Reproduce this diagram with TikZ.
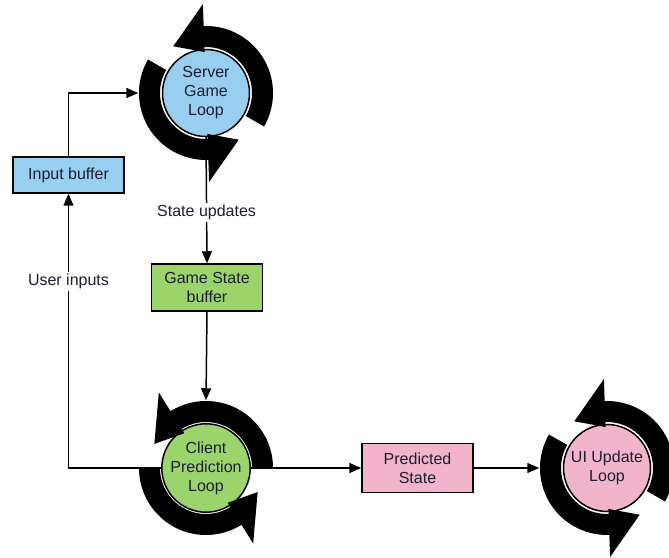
\documentclass[tikz,border=0pt]{standalone}
\usepackage{fontspec}
\setmainfont{Liberation Sans}
\usetikzlibrary{arrows.meta}

\definecolor{loopblue}{RGB}{152,206,240}
\definecolor{loopgreen}{RGB}{156,212,108}
\definecolor{looppink}{RGB}{242,180,202}
\definecolor{textdark}{RGB}{28,30,48}

% the two turning arrows round a loop
\tikzset{
  looparrows/.pic={
    \foreach \r in {0,180}
      \fill[black,rotate=\r] (-30:67) arc[start angle=-30,end angle=92,radius=67]
        -- (92:89) -- (125:57) -- (92:41) -- (92:46)
        arc[start angle=92,end angle=-30,radius=46] -- cycle;
  }
}

\begin{document}
\begin{tikzpicture}
  [x=1pt,y=1pt,line width=1.5pt,>={Triangle[length=12pt,width=10pt]},
   every node/.style={font=\fontsize{16}{19}\selectfont,text=textdark,align=center},
   buffer/.style={draw=black,line width=1.5pt,minimum width=111pt,inner sep=0pt},
   loop/.style={circle,draw=black,line width=1.5pt,minimum size=87pt,inner sep=0pt},
   ring/.style={circle,minimum size=134pt,inner sep=0pt}]

  \useasboundingbox (0,0) rectangle (669,557);

  \node[loop,fill=loopblue] (server) at (206,464) {Server\\Game\\Loop};
  \node[ring] (serverring) at (server) {};
  \node[buffer,fill=loopblue,minimum height=36pt] (inbuf) at (68.5,382) {Input buffer};
  \node[buffer,fill=loopgreen,minimum height=47pt] (gsbuf) at (207,269.5) {Game State\\buffer};
  \node[loop,fill=loopgreen] (client) at (206,89) {Client\\Prediction\\Loop};
  \node[ring] (clientring) at (client) {};
  \node[buffer,fill=looppink,minimum height=49pt] (pred) at (417.5,89) {Predicted\\State};
  \node[loop,fill=looppink] (ui) at (607,89) {UI Update\\Loop};
  \node[ring] (uiring) at (ui) {};

  \pic at (server) {looparrows};
  \pic[rotate=30] at (client) {looparrows};
  \pic at (ui) {looparrows};

  \draw[->] (inbuf.north) |- (serverring.west);
  \draw[->] (server.south) -- node[pos=0.6,fill=white,inner sep=2pt] {State updates} (gsbuf.north);
  \draw[->] (gsbuf.south) -- (clientring.north);
  \draw[->] (client.west) -| node[pos=0.84,fill=white,inner sep=2pt] {User inputs} (inbuf.south);
  \draw[->] (client.east) -- (pred.west);
  \draw[->] (pred.east) -- (uiring.west);

\end{tikzpicture}
\end{document}
